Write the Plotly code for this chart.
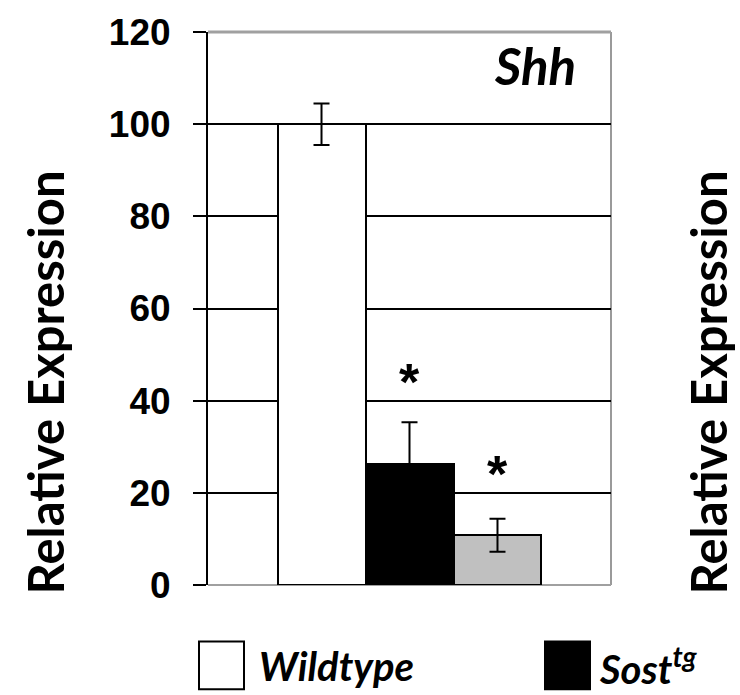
import plotly.graph_objects as go

# ---- data ----
groups = ["Wildtype", "Sost<sup>tg</sup>", "Group 3"]
values = [100, 26.3, 10.8]
errors = [4.5, 9.0, 3.6]
bar_colors = ["#ffffff", "#000000", "#c0c0c0"]
y_ticks = [0, 20, 40, 60, 80, 100, 120]
star_groups = [1, 2]
star_y = [44, 24]
gene = "Shh"
y_title = "Relative Expression"

W, H = 740, 695
L, R, T, B = 208, 611, 28, 585  # plot area in px


def px(x):
    return (x - L) / (R - L)


def py(y):
    return (B - y) / (B - T)


fig = go.Figure()
fig.add_trace(go.Bar(
    x=list(range(len(values))),
    y=values,
    width=1.0,
    marker=dict(color=bar_colors, line=dict(color="black", width=2)),
    error_y=dict(type="data", array=errors, visible=True, color="black",
                 thickness=2, width=8),
    showlegend=False,
    hoverinfo="skip",
))

tick_font = dict(family="Liberation Sans, Arial", size=37, color="black", weight="bold")
calib = "Lato, Carlito, Calibri, sans-serif"

fig.update_layout(
    width=W, height=H,
    margin=dict(l=L, r=W - R, t=T, b=H - B, pad=0),
    paper_bgcolor="white", plot_bgcolor="white",
    bargap=0,
    xaxis=dict(range=[-1.29, 3.29], showticklabels=False, ticks="", showgrid=False,
               zeroline=False, showline=False, fixedrange=True),
    yaxis=dict(range=[0, 120], tickvals=y_ticks, ticks="outside", ticklen=13,
               tickwidth=2, tickcolor="black", showgrid=True, gridcolor="black",
               gridwidth=2, zeroline=False, showline=True, linecolor="black",
               linewidth=2, tickfont=tick_font, ticklabelstandoff=15,
               fixedrange=True),
    showlegend=False,
)

# frame: top, right and bottom in grey
fig.add_shape(type="line", xref="paper", yref="paper", x0=1, y0=0, x1=1, y1=1,
              line=dict(color="#9a9a9a", width=2), layer="below")
fig.add_shape(type="line", xref="paper", yref="paper", x0=0, y0=1, x1=1, y1=1,
              line=dict(color="#a0a0a0", width=3), layer="above")
fig.add_shape(type="line", xref="paper", yref="paper", x0=0, y0=0, x1=1, y1=0,
              line=dict(color="#a0a0a0", width=2), layer="below")

# significance stars
for gx, sy in zip(star_groups, star_y):
    fig.add_annotation(x=gx, y=sy, xref="x", yref="y", text="*", showarrow=False,
                       font=dict(family="Liberation Sans, Arial", size=52, color="black",
                                 weight="bold"), yanchor="middle")

# gene label
fig.add_annotation(x=px(578), y=py(62), xref="paper", yref="paper", text=gene,
                   showarrow=False, xanchor="right", yanchor="middle",
                   font=dict(family=calib, size=51, color="black", weight="bold",
                             style="italic"))

# y titles (left and right)
for cx in [45, 708]:
    fig.add_annotation(x=px(cx), y=py(381), xref="paper", yref="paper", text=y_title,
                       textangle=-90, showarrow=False, xanchor="center", yanchor="middle",
                       font=dict(family=calib, size=49, color="black", weight="bold"))

# legend
leg_boxes = [(199, 244, "white"), (545, 590, "black")]
for x0, x1, col in leg_boxes:
    fig.add_shape(type="rect", xref="paper", yref="paper", x0=px(x0), x1=px(x1),
                  y0=py(690), y1=py(642), fillcolor=col,
                  line=dict(color="black", width=2))
for tx, label in [(257, groups[0]), (597, groups[1])]:
    fig.add_annotation(x=px(tx), y=py(667), xref="paper", yref="paper", text=label,
                       showarrow=False, xanchor="left", yanchor="middle",
                       font=dict(family=calib, size=40, color="black", weight="bold",
                                 style="italic"))

fig.write_html("out.html", config={"displayModeBar": False},
               post_script="document.body.style.margin='0';")
